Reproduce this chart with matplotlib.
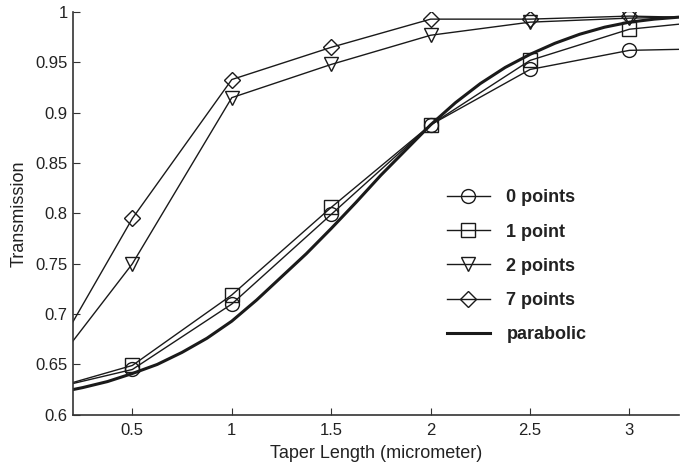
import matplotlib.pyplot as plt
from matplotlib.ticker import FuncFormatter

plt.rcParams['font.family'] = ['Liberation Sans', 'DejaVu Sans']

# marker positions (taper length, micrometer), plus the line ends at the axis edges
x_pts = [0.2, 0.5, 1.0, 1.5, 2.0, 2.5, 3.0, 3.25]
zero_pts = [0.631, 0.645, 0.710, 0.799, 0.888, 0.943, 0.962, 0.963]
one_pt = [0.632, 0.649, 0.719, 0.806, 0.888, 0.952, 0.983, 0.988]
two_pts = [0.673, 0.750, 0.915, 0.948, 0.977, 0.990, 0.994, 0.995]
seven_pts = [0.692, 0.795, 0.933, 0.965, 0.993, 0.993, 0.996, 0.995]

# parabolic taper curve, read every 0.125
x_par = [0.2, 0.25, 0.375, 0.5, 0.625, 0.75, 0.875, 1.0, 1.125, 1.25, 1.375, 1.5,
         1.625, 1.75, 1.875, 2.0, 2.125, 2.25, 2.375, 2.5, 2.625, 2.75, 2.875,
         3.0, 3.125, 3.25]
parabolic = [0.625, 0.627, 0.633, 0.641, 0.650, 0.662, 0.676, 0.693, 0.714, 0.737,
             0.760, 0.785, 0.811, 0.838, 0.863, 0.888, 0.910, 0.929, 0.945, 0.958,
             0.969, 0.978, 0.985, 0.990, 0.993, 0.995]

fig = plt.figure(figsize=(6.86, 4.65), dpi=100)
ax = fig.add_axes([0.106, 0.108, 0.884, 0.866])

c = '#1a1a1a'
mk = dict(color=c, lw=1.0, markersize=10, markerfacecolor='none', markeredgewidth=1.0, markevery=range(1, 7))
ax.plot(x_pts, zero_pts, marker='o', label='0 points', **mk)
ax.plot(x_pts, one_pt, marker='s', label='1 point', **mk)
ax.plot(x_pts, two_pts, marker='v', label='2 points', **mk)
ax.plot(x_pts, seven_pts, marker='D', label='7 points', **dict(mk, markersize=8))
ax.plot(x_par, parabolic, color=c, lw=2.2, label='parabolic', solid_joinstyle='round')

ax.set_xlim(0.2, 3.25)
ax.set_ylim(0.6, 1.0)
ax.set_xticks([0.5, 1, 1.5, 2, 2.5, 3])
ax.set_yticks([0.6, 0.65, 0.7, 0.75, 0.8, 0.85, 0.9, 0.95, 1.0])
ax.xaxis.set_major_formatter(FuncFormatter(lambda v, p: '%g' % v))
ax.yaxis.set_major_formatter(FuncFormatter(lambda v, p: '%g' % round(v, 2)))
ax.tick_params(direction='in', length=5, labelsize=12, colors='#333333', labelcolor='#222222')
ax.tick_params(axis='x', pad=6)
for s in ['top', 'right']:
    ax.spines[s].set_visible(False)
for s in ['left', 'bottom']:
    ax.spines[s].set_color('#333333')
    ax.spines[s].set_linewidth(1.2)

ax.set_xlabel('Taper Length (micrometer)', fontsize=13, color='#222222', labelpad=5)
ax.set_ylabel('Transmission', fontsize=13, color='#222222', labelpad=6)

leg = ax.legend(loc='upper left', bbox_to_anchor=(0.59, 0.60), frameon=False,
                prop={'weight': 'bold', 'size': 13}, handlelength=2.4,
                labelspacing=0.95, handletextpad=0.9)
for t in leg.get_texts():
    t.set_color('#222222')

fig.savefig('out.png', dpi=100)
